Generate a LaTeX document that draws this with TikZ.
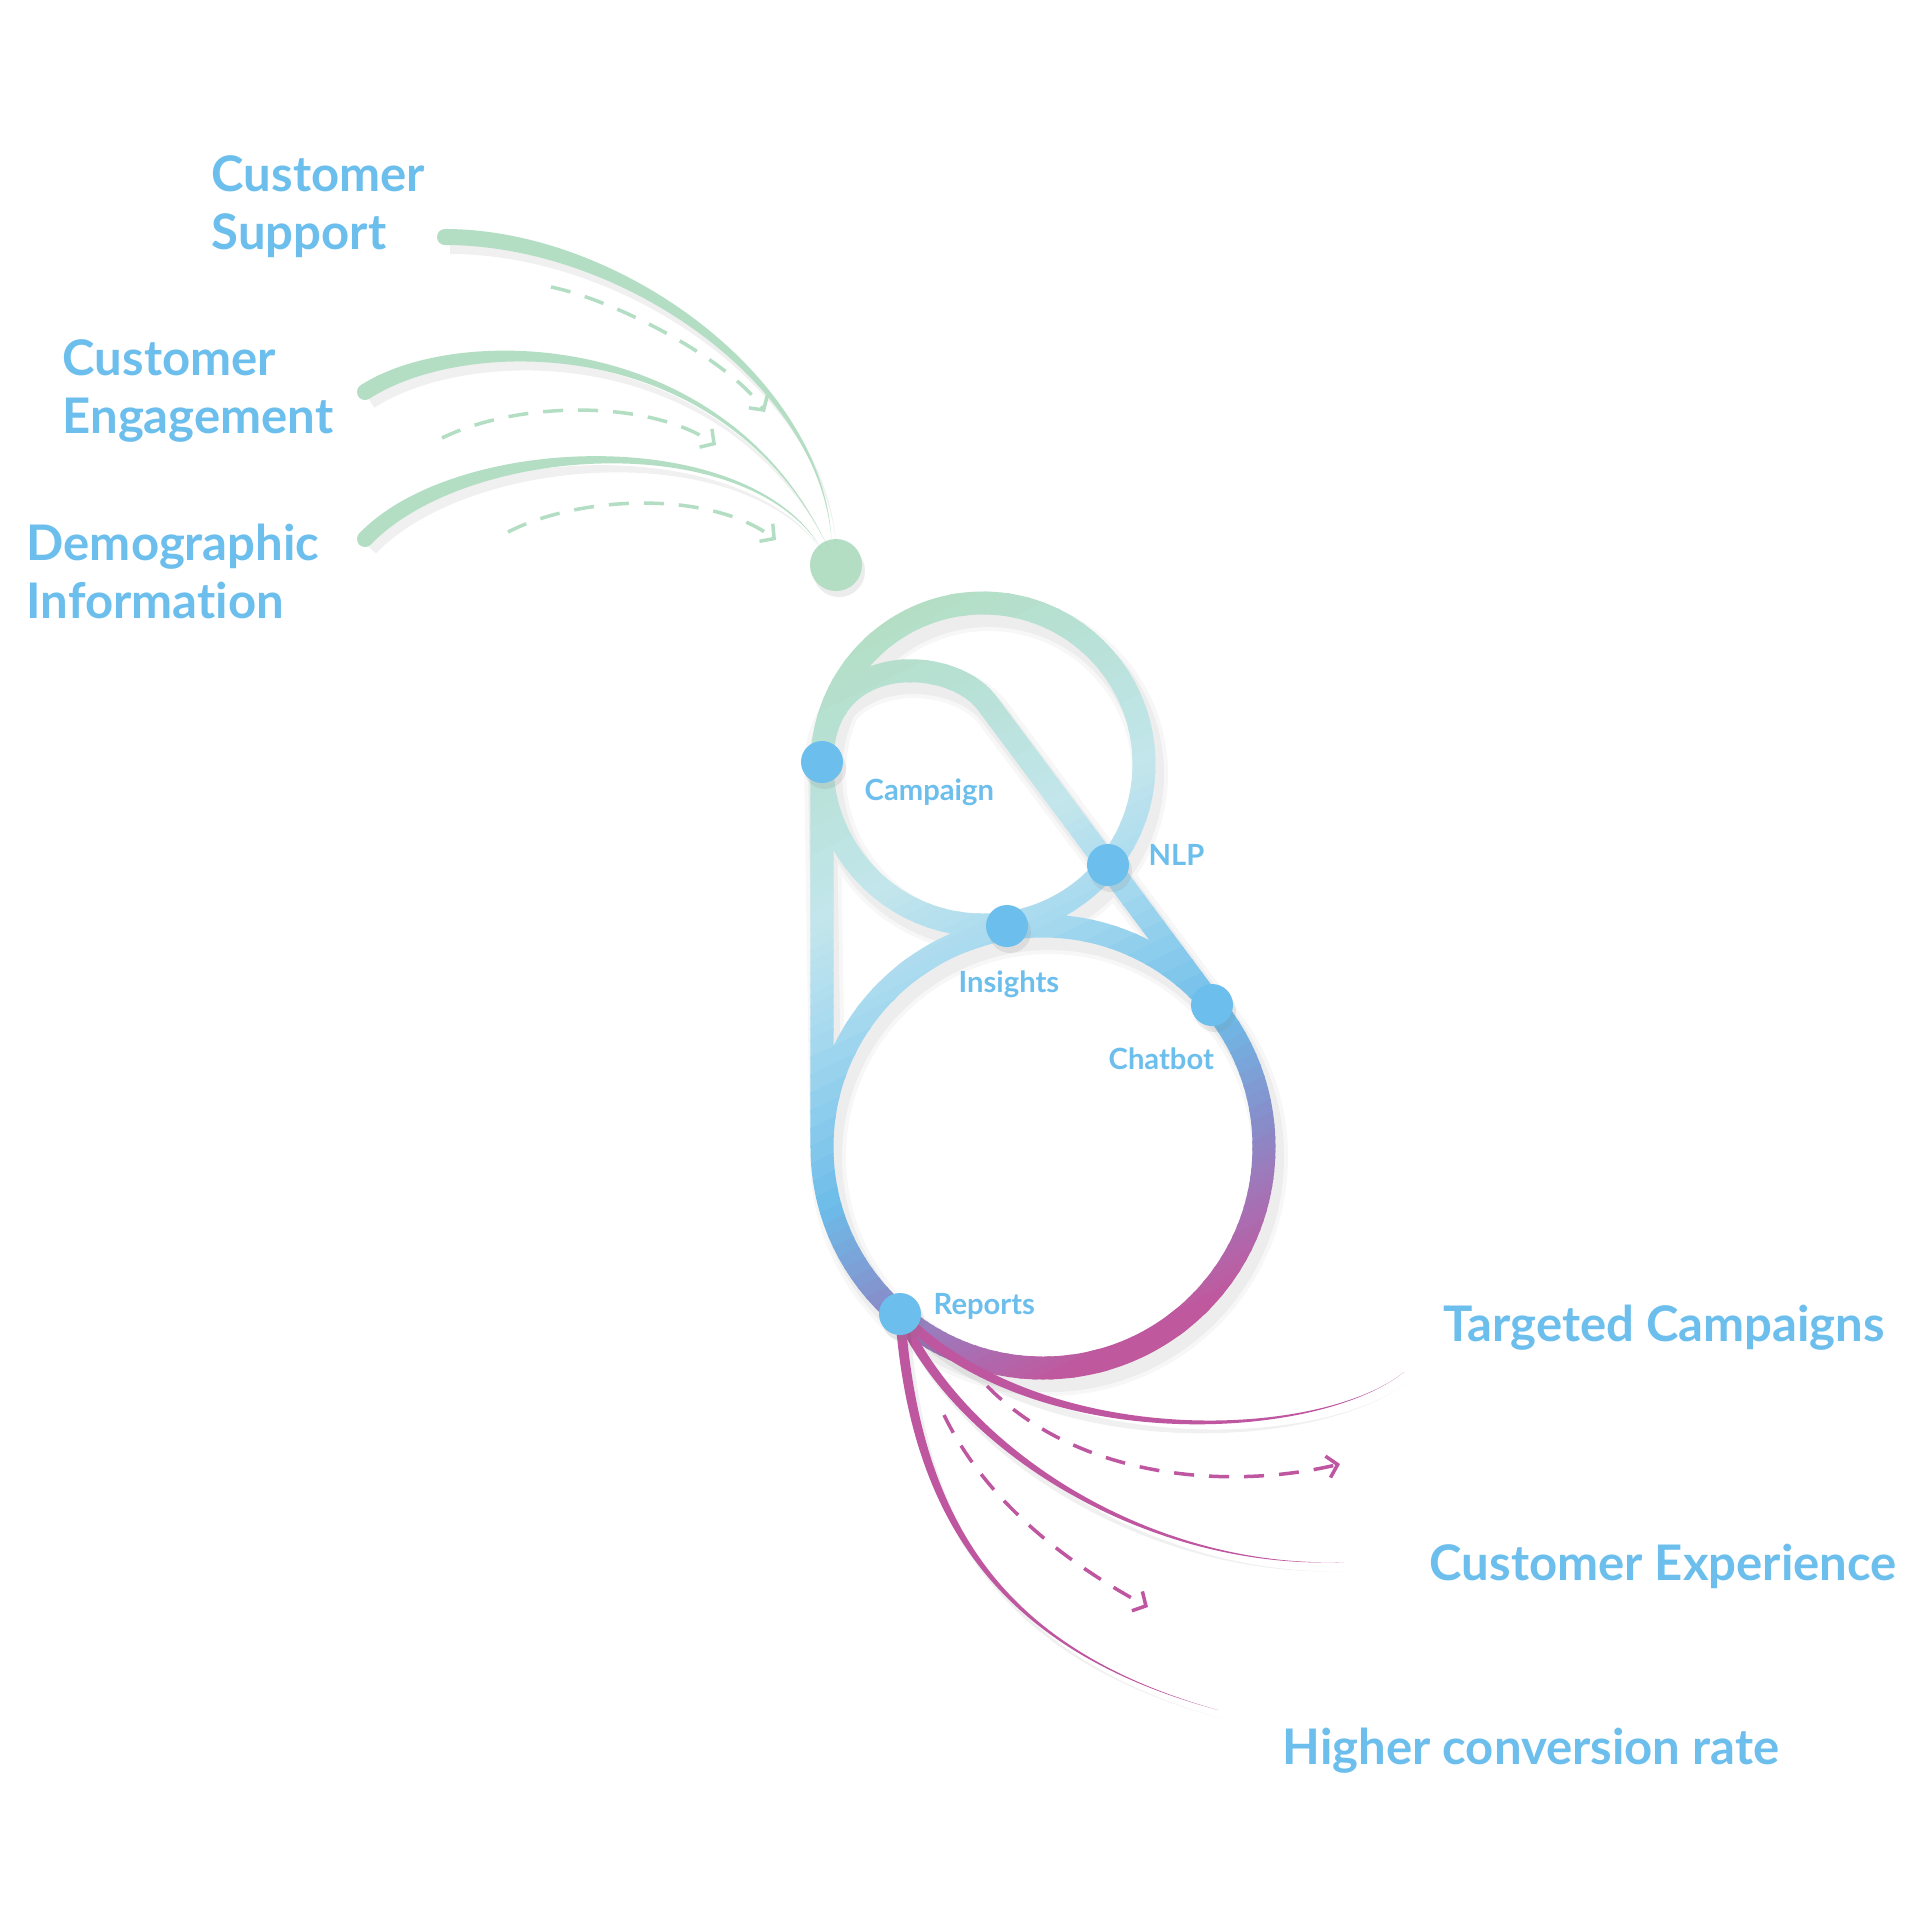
\documentclass[tikz,border=0pt]{standalone}
\usepackage{fontspec}
\setmainfont{Lato}[Ligatures=NoCommon]
\usetikzlibrary{arrows.meta,calc,shadows}
\definecolor{Mint}{HTML}{B3DEC3}
\definecolor{Sky}{HTML}{6CBEEC}
\definecolor{Berry}{HTML}{BE56A0}
\definecolor{lpA}{HTML}{B3DEC3}
\definecolor{lpB}{HTML}{B8E1D8}
\definecolor{lpC}{HTML}{C3E6EC}
\definecolor{lpD}{HTML}{A7D9EF}
\definecolor{lpE}{HTML}{6CBCE9}
\definecolor{lpF}{HTML}{8A8AC7}
\definecolor{lpG}{HTML}{A572B5}
\definecolor{lpH}{HTML}{C0589E}
\tikzset{
  softdrop/.style={preaction={fill=black,fill opacity=0.06,transform canvas={xshift=0.05cm,yshift=-0.09cm}}},
  mintline/.style={fill=Mint,softdrop},
  berryline/.style={fill=Berry,softdrop},
  mintdash/.style={draw=Mint,line width=0.035cm,dash pattern=on 0.2cm off 0.15cm,-{Straight Barb[length=0.1cm,width=0.22cm]}},
  berrydash/.style={mintdash,draw=Berry},
  loopline/.style={line width=0.23cm},
  stopdot/.style={circle,fill=Sky,minimum size=0.42cm,inner sep=0,drop shadow={opacity=0.15,shadow xshift=0.03cm,shadow yshift=-0.06cm}},
  hubdot/.style={stopdot,fill=Mint,minimum size=0.52cm},
  biglabel/.style={text=Sky,font=\bfseries\fontsize{13.95}{16.4}\selectfont,anchor=base west,inner sep=0,align=left},
  smalllabel/.style={text=Sky,font=\bfseries\fontsize{8.3}{10}\selectfont,anchor=base west,inner sep=0}
}
% loop: both rings, the tail through NLP and the left bar
\newcommand\loopstroke{(983,764) circle[radius=161] (1043,1147) circle[radius=221]
  (chatbot) -- (987,703) .. controls (951,655) and (822,650) .. (campaign) -- (822,1147)}

\begin{document}
\begin{tikzpicture}[x=0.01cm,y=-0.01cm]
  \useasboundingbox (0,0) rectangle (1920,1920);
  \fill[white] (0,0) rectangle (1920,1920);
  \coordinate (campaign) at (822,762);
  \coordinate (nlp) at (1108,865);
  \coordinate (insights) at (1007,926);
  \coordinate (chatbot) at (1212,1005);
  \coordinate (reports) at (900,1314);
  \node[hubdot] (hub) at (836,565) {};

  % soft shadow under the loop
  \begin{scope}[shift={(6,10)}]
    \draw[loopline,line width=0.36cm,black,opacity=0.03] \loopstroke;
    \draw[loopline,line width=0.28cm,black,opacity=0.04] \loopstroke;
  \end{scope}
  % loop colours, band by band
  \foreach \pa/\pb/\ca/\cb in {940/1060/lpA/lpB,1060/1190/lpB/lpC,1190/1290/lpC/lpD,1290/1450/lpD/lpE,
      1450/1570/lpE/lpF,1570/1630/lpF/lpG,1630/1700/lpG/lpH,1700/1780/lpH/lpH}{
    \foreach \j in {0,...,9}{
      \pgfmathsetmacro\lo{\pa+(\pb-\pa)*\j/10}
      \pgfmathsetmacro\hi{\pa+(\pb-\pa)*(\j+1)/10+2}
      \pgfmathsetmacro\mix{10*\j+5}
      \begin{scope}
        \clip[rotate=26.1] (-500,\lo) rectangle (1500,\hi);
        \draw[loopline,draw=\cb!\mix!\ca] \loopstroke;
      \end{scope}
    }
  }

  % inputs
  \coordinate (sup-start) at (445,237);
  \coordinate (eng-start) at (365,392);
  \coordinate (dem-start) at (365,539);
  \fill[mintline] ($(sup-start)+(0,-8)$) .. controls (620,229) and (823,378) .. (hub.100)
    .. controls (819,382) and (620,245) .. ($(sup-start)+(0,8)$) -- cycle;
  \fill[mintline] ($(eng-start)+(-4.4,-6.7)$) .. controls (456,323) and (722,328) .. (hub.115)
    .. controls (718,332) and (464,337) .. ($(eng-start)+(4.4,6.7)$) -- cycle;
  \fill[mintline] ($(dem-start)+(-5.8,-5.5)$) .. controls (454,434) and (742,423) .. (hub.130)
    .. controls (738,427) and (466,446) .. ($(dem-start)+(5.8,5.5)$) -- cycle;
  \fill[Mint] (sup-start) circle[radius=8] (eng-start) circle[radius=8];
  \fill[Mint] (dem-start) circle[radius=8];
  \draw[mintdash] (551,287) coordinate (sup-tail) .. controls (615,300) and (730,360) .. (765,412) coordinate (sup-head);
  \draw[mintdash] (442,438) coordinate (eng-tail) .. controls (520,400) and (650,400) .. (716,445) coordinate (eng-head);
  \draw[mintdash] (508,532) coordinate (dem-tail) .. controls (580,495) and (710,490) .. (776,540) coordinate (dem-head);

  % outputs
  \coordinate (tc-end) at (1404,1372);
  \coordinate (ce-end) at (1344,1562);
  \coordinate (hc-end) at (1218,1710);
  \fill[berryline] ($(reports)+(3.5,-3.5)$) .. controls (1043,1452) and (1321,1439) .. (tc-end)
    .. controls (1319,1441) and (1037,1459) .. ($(reports)+(-3.5,3.5)$) -- cycle;
  \fill[berryline] ($(reports)+(4.5,-2)$) .. controls (964,1448) and (1151,1569) .. (ce-end)
    .. controls (1149,1571) and (956,1452) .. ($(reports)+(-4.5,2)$) -- cycle;
  \fill[berryline] ($(reports)+(5,0)$) .. controls (920,1520) and (1001,1649) .. (hc-end)
    .. controls (999,1651) and (910,1520) .. ($(reports)+(-5,0)$) -- cycle;
  \draw[berrydash] (987,1386) coordinate (tc-tail) .. controls (1080,1480) and (1230,1490) .. (1340,1464) coordinate (tc-head);
  \draw[berrydash] (944,1415) coordinate (ce-tail) .. controls (990,1510) and (1080,1570) .. (1148,1607) coordinate (ce-head);

  % stops on the loop
  \node[stopdot] (campaign dot) at (campaign) {};
  \node[stopdot] (nlp dot) at (nlp) {};
  \node[stopdot] (insights dot) at (insights) {};
  \node[stopdot] (chatbot dot) at (chatbot) {};
  \node[stopdot] (reports dot) at (reports) {};

  \node[smalllabel] (campaign label) at (864,800) {Campaign};
  \node[smalllabel] (nlp label) at (1148,865) {NLP};
  \node[smalllabel] (insights label) at (958,992) {Insights};
  \node[smalllabel] (chatbot label) at (1108,1069) {Chatbot};
  \node[smalllabel] (reports label) at (933,1314) {Reports};

  \node[biglabel] (support) at (211,249) {Customer\\Support};
  \node[biglabel] (engagement) at (62,433) {Customer\\Engagement};
  \node[biglabel] (demographic) at (26,618) {Demographic\\Information};
  \node[biglabel] (targeted) at (1443,1341) {Targeted Campaigns};
  \node[biglabel] (experience) at (1429,1580) {Customer Experience};
  \node[biglabel] (conversion) at (1282,1764) {Higher conversion rate};
\end{tikzpicture}
\end{document}
